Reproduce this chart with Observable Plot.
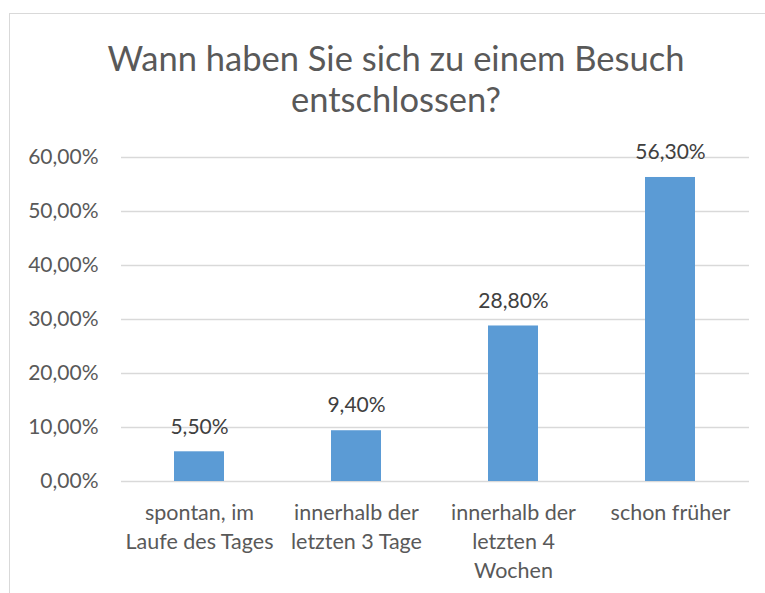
<!DOCTYPE html>
<html>
<head>
<meta charset="utf-8">
<script src="https://cdn.jsdelivr.net/npm/d3@7"></script>
<script src="https://cdn.jsdelivr.net/npm/@observablehq/plot@0.6"></script>
<style>
  html, body { margin: 0; padding: 0; background: #fff; }
  #wrap { position: relative; width: 765px; height: 593px; overflow: hidden; font-family: Lato, "Open Sans", sans-serif; }
  #frame { position: absolute; left: 9px; top: 13px; width: 800px; height: 650px; border-left: 1px solid #d9d9d9; border-top: 1px solid #d9d9d9; }
  #title { position: absolute; left: 9px; top: 37px; width: 774px; text-align: center; color: #595959; font-size: 34.5px; line-height: 41px; }
  #chart { position: absolute; left: 0; top: 0; }
</style>
</head>
<body>
<div id="wrap">
  <div id="frame"></div>
  <div id="chart"></div>
  <div id="title">Wann haben Sie sich zu einem Besuch<br>entschlossen?</div>
</div>
<script>
const categories = ["spontan, im Laufe des Tages", "innerhalb der letzten 3 Tage", "innerhalb der letzten 4 Wochen", "schon früher"];
const tickLabels = ["spontan, im\nLaufe des Tages", "innerhalb der\nletzten 3 Tage", "innerhalb der\nletzten 4\nWochen", "schon früher"];
const values = [5.5, 9.4, 28.8, 56.3];
const yTicks = [0, 10, 20, 30, 40, 50, 60];

const data = categories.map((c, i) => ({category: c, value: values[i]}));
const fmt = v => v.toFixed(2).replace(".", ",") + "%";
const labelOf = c => tickLabels[categories.indexOf(c)];

const chart = Plot.plot({
  width: 765,
  height: 593,
  marginTop: 157,
  marginBottom: 112,
  marginLeft: 121,
  marginRight: 16,
  style: {fontFamily: "Lato, 'Open Sans', sans-serif", color: "#595959", background: "transparent"},
  x: {domain: categories, paddingInner: 0.68, paddingOuter: 0.34},
  y: {domain: [0, 60]},
  marks: [
    Plot.gridY(yTicks, {stroke: "#d9d9d9", strokeOpacity: 1, strokeWidth: 1.3}),
    Plot.barY(data, {x: "category", y: "value", fill: "#5b9bd5"}),
    Plot.text(data, {x: "category", y: "value", text: d => fmt(d.value), dy: -25, fontSize: 21, fill: "#404040"}),
    Plot.axisY(yTicks, {tickSize: 0, tickPadding: 23, tickFormat: fmt, fontSize: 21, label: null, fill: "#595959"}),
    Plot.axisX({tickSize: 0, tickPadding: 17.5, tickFormat: labelOf, fontSize: 21.5, lineHeight: 1.35, label: null, fill: "#595959"})
  ]
});
document.getElementById("chart").appendChild(chart);
</script>
</body>
</html>
